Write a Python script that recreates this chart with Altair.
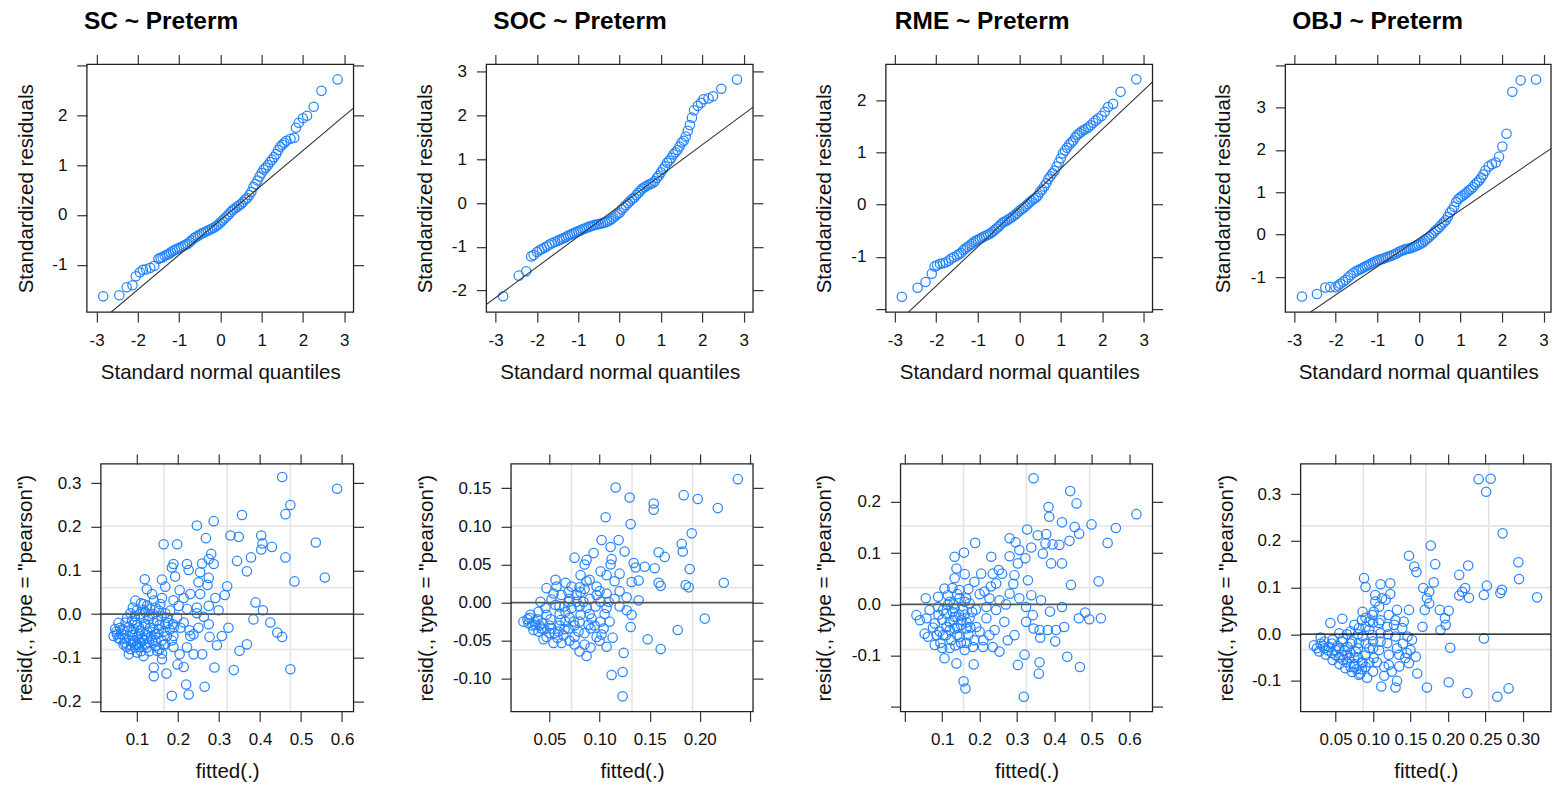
import altair as alt
import pandas as pd

FONT = "Liberation Sans"
PT = "#1f80ff"
H = 248

# ---------------- QQ panels (top row) ----------------
MID_X = [-1.50, -1.45, -1.40, -1.35, -1.30, -1.25, -1.20, -1.15, -1.10, -1.05,
         -1.00, -0.95, -0.90, -0.85, -0.80, -0.75, -0.70, -0.65, -0.60, -0.55,
         -0.50, -0.45, -0.40, -0.35, -0.30, -0.25, -0.20, -0.15, -0.10, -0.05,
         0.00, 0.05, 0.10, 0.15, 0.20, 0.25, 0.30, 0.35, 0.40, 0.45,
         0.50, 0.55, 0.60, 0.65, 0.70, 0.75, 0.80, 0.85, 0.90, 0.95,
         1.00, 1.05, 1.10, 1.15, 1.20, 1.25, 1.30, 1.35, 1.40, 1.45,
         1.50, 1.55, 1.60]

SC_LOW_X = [-2.84, -2.45, -2.27, -2.13, -2.05, -1.95, -1.88, -1.80, -1.70, -1.60]
SC_LOW_Y = [-1.63, -1.61, -1.45, -1.41, -1.23, -1.15, -1.10, -1.09, -1.06, -1.02]
SC_MID_Y = [-0.88, -0.86, -0.85, -0.82, -0.80, -0.78, -0.75, -0.72, -0.70, -0.68,
            -0.66, -0.645, -0.62, -0.60, -0.58, -0.545, -0.51, -0.47, -0.445, -0.42,
            -0.395, -0.37, -0.35, -0.33, -0.31, -0.29, -0.27, -0.25, -0.22, -0.19,
            -0.15, -0.11, -0.07, -0.03, 0.01, 0.06, 0.10, 0.13, 0.16, 0.19,
            0.22, 0.26, 0.31, 0.34, 0.40, 0.46, 0.56, 0.62, 0.69, 0.77,
            0.84, 0.91, 0.95, 1.00, 1.06, 1.11, 1.16, 1.22, 1.30, 1.37,
            1.41, 1.45, 1.49]
SC_UP_X = [1.70, 1.79, 1.83, 1.90, 2.00, 2.10, 2.26, 2.45, 2.84]
SC_UP_Y = [1.53, 1.55, 1.75, 1.85, 1.94, 1.99, 2.17, 2.49, 2.72]
SC_LINE = ([-2.65, 3.23], [-1.95, 2.15])

SOC_LOW_X = [-2.82, -2.44, -2.26, -2.14, -2.08, -2.00, -1.94, -1.88, -1.82, -1.76, -1.70, -1.64, -1.57]
SOC_LOW_Y = [-2.13, -1.66, -1.56, -1.22, -1.19, -1.12, -1.08, -1.05, -1.02, -0.99, -0.95, -0.92, -0.89]
SOC_MID_Y = [-0.865, -0.84, -0.82, -0.80, -0.775, -0.75, -0.725, -0.705, -0.685, -0.66,
             -0.645, -0.625, -0.60, -0.585, -0.565, -0.545, -0.53, -0.515, -0.50, -0.49,
             -0.48, -0.47, -0.455, -0.445, -0.425, -0.40, -0.37, -0.33, -0.29, -0.25,
             -0.22, -0.15, -0.10, -0.05, -0.005, 0.04, 0.09, 0.12, 0.18, 0.23,
             0.28, 0.33, 0.36, 0.39, 0.42, 0.44, 0.46, 0.50, 0.57, 0.63,
             0.70, 0.77, 0.84, 0.92, 0.97, 1.03, 1.11, 1.16, 1.21, 1.29,
             1.38, 1.42, 1.52]
SOC_UP_X = [1.65, 1.70, 1.75, 1.80, 1.89, 1.97, 2.03, 2.15, 2.26, 2.46, 2.84]
SOC_UP_Y = [1.65, 1.78, 1.95, 2.12, 2.22, 2.29, 2.37, 2.39, 2.44, 2.61, 2.82]
SOC_LINE = ([-3.23, 3.23], [-2.32, 2.19])

RME_LOW_X = [-2.83, -2.45, -2.26, -2.11, -2.04, -1.98, -1.91, -1.84, -1.77, -1.70, -1.64, -1.57]
RME_LOW_Y = [-1.76, -1.59, -1.48, -1.32, -1.18, -1.16, -1.13, -1.12, -1.10, -1.07, -1.03, -1.00]
RME_MID_Y = [-0.97, -0.945, -0.92, -0.87, -0.84, -0.81, -0.78, -0.75, -0.72, -0.69,
             -0.67, -0.65, -0.63, -0.61, -0.59, -0.57, -0.55, -0.52, -0.49, -0.455,
             -0.42, -0.38, -0.34, -0.32, -0.30, -0.275, -0.25, -0.22, -0.19, -0.16,
             -0.12, -0.09, -0.065, -0.03, 0.01, 0.045, 0.08, 0.11, 0.135, 0.175,
             0.245, 0.29, 0.35, 0.41, 0.49, 0.545, 0.60, 0.65, 0.73, 0.81,
             0.89, 0.98, 1.04, 1.09, 1.15, 1.19, 1.23, 1.29, 1.34, 1.37,
             1.40, 1.43, 1.45]
RME_UP_X = [1.66, 1.72, 1.78, 1.84, 1.90, 1.98, 2.06, 2.14, 2.26, 2.44, 2.82]
RME_UP_Y = [1.48, 1.52, 1.57, 1.61, 1.65, 1.70, 1.78, 1.87, 1.93, 2.16, 2.40]
RME_LINE = ([-2.67, 3.21], [-2.055, 2.35])

OBJ_LOW_X = [-2.81, -2.45, -2.25, -2.13, -2.00, -1.94, -1.89, -1.82, -1.76, -1.70, -1.64, -1.57]
OBJ_LOW_Y = [-1.46, -1.40, -1.25, -1.24, -1.24, -1.20, -1.16, -1.11, -1.07, -1.01, -0.96, -0.90]
OBJ_MID_Y = [-0.86, -0.835, -0.81, -0.785, -0.76, -0.735, -0.71, -0.685, -0.66, -0.635,
             -0.61, -0.595, -0.58, -0.565, -0.545, -0.525, -0.51, -0.49, -0.47, -0.45,
             -0.42, -0.395, -0.375, -0.355, -0.34, -0.33, -0.32, -0.30, -0.28, -0.255,
             -0.24, -0.21, -0.185, -0.14, -0.10, -0.055, -0.01, 0.04, 0.09, 0.13,
             0.18, 0.24, 0.29, 0.34, 0.42, 0.52, 0.58, 0.66, 0.77, 0.84,
             0.88, 0.92, 0.95, 0.99, 1.04, 1.07, 1.12, 1.18, 1.23, 1.28,
             1.34, 1.42, 1.51]
OBJ_UP_X = [1.68, 1.76, 1.85, 1.93, 2.01, 2.11, 2.25, 2.45, 2.82]
OBJ_UP_Y = [1.61, 1.66, 1.70, 1.84, 2.08, 2.38, 3.37, 3.64, 3.66]
OBJ_LINE = ([-2.61, 3.18], [-1.83, 2.03])

# ---------------- residual vs fitted panels (bottom row) ----------------
SC_RES = [
    (0.454, 0.314), (0.588, 0.287), (0.474, 0.250), (0.462, 0.229), (0.356, 0.227),
    (0.287, 0.213), (0.246, 0.203), (0.328, 0.180), (0.348, 0.177), (0.403, 0.180),
    (0.268, 0.174), (0.165, 0.160), (0.198, 0.160), (0.406, 0.162), (0.429, 0.154),
    (0.403, 0.148), (0.536, 0.164), (0.462, 0.130), (0.378, 0.130), (0.344, 0.122),
    (0.368, 0.098), (0.281, 0.138), (0.275, 0.126), (0.287, 0.115), (0.259, 0.116),
    (0.222, 0.115), (0.189, 0.115), (0.185, 0.107), (0.226, 0.101), (0.193, 0.086),
    (0.254, 0.096), (0.275, 0.083), (0.250, 0.073), (0.272, 0.067), (0.484, 0.075),
    (0.558, 0.084), (0.119, 0.080), (0.161, 0.079), (0.169, 0.063), (0.124, 0.057),
    (0.204, 0.055), (0.320, 0.064), (0.230, 0.046), (0.254, 0.046), (0.314, 0.044),
    (0.291, 0.037), (0.137, 0.046), (0.161, 0.037), (0.189, 0.032), (0.214, 0.037),
    (0.389, 0.027), (0.096, 0.031), (0.116, 0.023), (0.145, 0.015), (0.202, 0.019),
    (0.222, 0.012), (0.246, 0.015), (0.275, 0.019), (0.299, 0.009), (0.407, 0.009),
    (0.084, 0.002), (0.108, 0.000), (0.169, 0.002), (0.246, 0.002), (0.263, -0.006),
    (0.384, -0.012), (0.425, -0.019), (0.442, -0.042), (0.454, -0.052), (0.323, -0.031),
    (0.307, -0.050), (0.277, -0.052), (0.295, -0.071), (0.368, -0.069), (0.350, -0.084),
    (0.259, -0.092), (0.474, -0.126), (0.336, -0.128), (0.289, -0.122), (0.265, -0.166),
    (0.220, -0.161), (0.226, -0.184), (0.185, -0.187), (0.141, -0.122), (0.141, -0.142),
    (0.172, -0.136), (0.199, -0.115), (0.214, -0.121), (0.189, -0.075), (0.204, -0.092),
    (0.238, -0.092), (0.222, -0.076), (0.161, -0.090), (0.161, -0.103), (0.149, -0.084),
    (0.116, -0.096), (0.100, -0.088), (0.084, -0.080), (0.230, -0.050), (0.228, -0.037),
    (0.206, -0.031), (0.188, -0.023), (0.214, -0.019), (0.275, -0.023), (0.250, -0.031),
    (0.238, -0.046), (0.047, -0.034), (0.051, -0.046), (0.059, -0.057), (0.067, -0.069),
    (0.076, -0.038), (0.072, -0.019), (0.088, -0.015), (0.092, -0.034), (0.100, -0.052),
    (0.108, -0.065), (0.120, -0.046), (0.132, -0.031), (0.128, -0.012), (0.149, -0.015),
    (0.153, -0.034), (0.169, -0.023), (0.173, -0.050), (0.137, -0.061), (0.084, -0.061),
    (0.096, -0.076), (0.124, -0.076), (0.145, -0.073), (0.169, -0.069), (0.189, -0.050),
    (0.198, -0.008), (0.181, 0.008), (0.153, 0.008), (0.132, 0.012), (0.100, 0.008),
    (0.076, -0.008), (0.059, -0.031), (0.043, -0.050), (0.080, -0.092), (0.108, -0.038),
    (0.120, -0.023), (0.145, -0.046), (0.116, -0.008), (0.157, 0.023), (0.141, 0.031),
    (0.173, -0.008), (0.062, -0.045), (0.070, -0.055), (0.088, -0.048), (0.095, -0.020),
    (0.105, -0.030), (0.112, -0.055), (0.125, -0.040), (0.135, -0.050), (0.140, -0.020),
    (0.160, -0.060), (0.165, -0.040), (0.180, -0.035), (0.090, -0.065), (0.105, -0.075),
    (0.130, -0.085), (0.155, -0.080), (0.115, 0.010), (0.125, 0.020), (0.055, -0.020),
    (0.050, -0.040), (0.055, -0.055), (0.065, -0.035), (0.070, -0.065), (0.075, -0.075),
    (0.080, -0.030), (0.085, -0.070), (0.090, -0.040), (0.095, -0.060), (0.100, -0.070),
    (0.100, -0.025), (0.105, -0.045), (0.110, -0.085), (0.115, -0.060), (0.120, -0.070),
    (0.125, -0.055), (0.130, -0.065), (0.130, -0.005), (0.140, -0.035), (0.145, -0.060),
    (0.150, -0.045), (0.155, -0.025), (0.160, -0.005), (0.165, -0.070), (0.175, -0.020),
    (0.185, -0.060), (0.190, -0.030), (0.110, 0.025), (0.120, 0.005), (0.090, 0.015),
    (0.095, -0.005), (0.140, 0.000),
]

SOC_RES = [
    (0.238, 0.162), (0.116, 0.151), (0.130, 0.138), (0.184, 0.141), (0.198, 0.136),
    (0.154, 0.130), (0.154, 0.122), (0.218, 0.124), (0.106, 0.112), (0.131, 0.103),
    (0.192, 0.091), (0.102, 0.082), (0.119, 0.082), (0.111, 0.073), (0.182, 0.077),
    (0.183, 0.067), (0.125, 0.067), (0.159, 0.066), (0.165, 0.060), (0.094, 0.065),
    (0.087, 0.056), (0.075, 0.059), (0.085, 0.050), (0.112, 0.057), (0.111, 0.050),
    (0.134, 0.052), (0.136, 0.046), (0.145, 0.047), (0.155, 0.045), (0.190, 0.044),
    (0.101, 0.041), (0.107, 0.036), (0.120, 0.038), (0.081, 0.036), (0.115, 0.028),
    (0.132, 0.027), (0.139, 0.029), (0.159, 0.026), (0.161, 0.022), (0.186, 0.023),
    (0.189, 0.020), (0.224, 0.026), (0.056, 0.030), (0.047, 0.019), (0.066, 0.026),
    (0.072, 0.021), (0.087, 0.028), (0.097, 0.021), (0.107, 0.012), (0.127, 0.007),
    (0.139, 0.003), (0.041, 0.001), (0.052, 0.004), (0.062, 0.010), (0.069, 0.014),
    (0.077, 0.010), (0.084, 0.001), (0.096, -0.005), (0.107, -0.007), (0.120, -0.005),
    (0.127, -0.010), (0.132, -0.016), (0.131, -0.032), (0.205, -0.021), (0.178, -0.036),
    (0.148, -0.048), (0.161, -0.061), (0.124, -0.066), (0.112, -0.095), (0.123, -0.091),
    (0.123, -0.123), (0.080, -0.064), (0.087, -0.070), (0.091, -0.059), (0.107, -0.058),
    (0.113, -0.046), (0.102, -0.042), (0.104, -0.034), (0.101, -0.025), (0.092, -0.021),
    (0.089, -0.029), (0.079, -0.038), (0.081, -0.016), (0.072, -0.007), (0.066, -0.012),
    (0.061, -0.023), (0.052, -0.034), (0.054, -0.053), (0.062, -0.053), (0.047, -0.045),
    (0.042, -0.034), (0.036, -0.029), (0.029, -0.027), (0.024, -0.025), (0.031, -0.016),
    (0.039, -0.012), (0.046, -0.007), (0.047, -0.016), (0.039, -0.038), (0.034, -0.036),
    (0.059, -0.038), (0.069, -0.034), (0.074, -0.025), (0.066, -0.025), (0.056, -0.003),
    (0.069, 0.001), (0.077, 0.001), (0.087, -0.007), (0.097, 0.010), (0.091, -0.034),
    (0.097, -0.045), (0.057, 0.021), (0.054, 0.012), (0.081, 0.014), (0.101, 0.001),
    (0.109, 0.001), (0.028, -0.022), (0.033, -0.030), (0.038, -0.022), (0.043, -0.027),
    (0.050, -0.040), (0.044, -0.048), (0.058, -0.046), (0.064, -0.043), (0.070, -0.050),
    (0.075, -0.045), (0.060, -0.015), (0.051, -0.022), (0.065, -0.005), (0.080, -0.005),
    (0.085, 0.018), (0.090, 0.005), (0.030, -0.020), (0.035, -0.025), (0.040, -0.030),
    (0.045, -0.035), (0.050, -0.030), (0.055, -0.040), (0.060, -0.030), (0.065, -0.035),
    (0.070, -0.020), (0.075, -0.030), (0.080, -0.025), (0.085, -0.040), (0.090, -0.015),
    (0.095, -0.030), (0.060, -0.005), (0.070, 0.005), (0.080, 0.020), (0.090, 0.030),
    (0.100, 0.015), (0.105, -0.015), (0.110, -0.025), (0.115, 0.005), (0.120, 0.015),
    (0.075, -0.055), (0.085, -0.055), (0.100, -0.050),
]

RME_RES = [
    (0.344, 0.246), (0.442, 0.221), (0.459, 0.197), (0.384, 0.190), (0.386, 0.171),
    (0.619, 0.176), (0.420, 0.160), (0.454, 0.151), (0.499, 0.156), (0.564, 0.149),
    (0.466, 0.138), (0.440, 0.124), (0.542, 0.120), (0.327, 0.146), (0.355, 0.135),
    (0.378, 0.137), (0.280, 0.129), (0.296, 0.121), (0.338, 0.111), (0.376, 0.119),
    (0.395, 0.117), (0.413, 0.116), (0.369, 0.099), (0.391, 0.080), (0.420, 0.080),
    (0.188, 0.120), (0.133, 0.093), (0.158, 0.101), (0.138, 0.070), (0.231, 0.093),
    (0.280, 0.094), (0.306, 0.106), (0.322, 0.090), (0.302, 0.080), (0.251, 0.067),
    (0.235, 0.060), (0.204, 0.060), (0.160, 0.059), (0.293, 0.057), (0.329, 0.047),
    (0.444, 0.038), (0.518, 0.045), (0.133, 0.051), (0.106, 0.031), (0.127, 0.032),
    (0.146, 0.028), (0.186, 0.044), (0.213, 0.025), (0.244, 0.041), (0.280, 0.021),
    (0.306, 0.012), (0.338, 0.018), (0.364, 0.008), (0.056, 0.012), (0.089, 0.015),
    (0.164, 0.012), (0.226, 0.012), (0.253, 0.008), (0.089, -0.005), (0.115, -0.001),
    (0.133, -0.008), (0.173, 0.002), (0.218, -0.005), (0.244, -0.011), (0.324, -0.005),
    (0.420, -0.005), (0.388, -0.014), (0.031, -0.021), (0.040, -0.031), (0.058, -0.027),
    (0.080, -0.037), (0.111, -0.018), (0.133, -0.024), (0.151, -0.031), (0.173, -0.027),
    (0.191, -0.044), (0.218, -0.027), (0.266, -0.034), (0.342, -0.021), (0.324, -0.034),
    (0.344, -0.047), (0.360, -0.050), (0.382, -0.050), (0.404, -0.050), (0.426, -0.044),
    (0.465, -0.027), (0.493, -0.029), (0.524, -0.027), (0.482, -0.016), (0.362, -0.065),
    (0.402, -0.072), (0.053, -0.057), (0.062, -0.063), (0.080, -0.079), (0.102, -0.060),
    (0.124, -0.070), (0.146, -0.063), (0.160, -0.089), (0.182, -0.083), (0.209, -0.083),
    (0.235, -0.083), (0.253, -0.092), (0.275, -0.070), (0.293, -0.060), (0.226, -0.060),
    (0.200, -0.053), (0.106, -0.105), (0.138, -0.115), (0.184, -0.117), (0.157, -0.150),
    (0.162, -0.164), (0.302, -0.118), (0.320, -0.098), (0.360, -0.113), (0.358, -0.135),
    (0.434, -0.102), (0.468, -0.122), (0.318, -0.180), (0.133, -0.047), (0.111, -0.044),
    (0.093, -0.053), (0.164, -0.047), (0.128, -0.015), (0.146, 0.012), (0.115, 0.018),
    (0.102, -0.011), (0.066, -0.011), (0.120, -0.035), (0.140, -0.045), (0.160, -0.020),
    (0.170, -0.060), (0.190, -0.010), (0.150, -0.075), (0.120, -0.085), (0.095, -0.075),
    (0.075, -0.045), (0.140, 0.020), (0.170, 0.030), (0.200, 0.020), (0.210, -0.070),
    (0.240, -0.050), (0.270, 0.000), (0.290, 0.040), (0.260, 0.060), (0.230, 0.035),
    (0.100, -0.030), (0.110, -0.060), (0.120, -0.050), (0.130, -0.030), (0.140, -0.060),
    (0.150, -0.040), (0.155, -0.010), (0.165, -0.035), (0.175, -0.045), (0.180, -0.015),
    (0.130, 0.000), (0.145, -0.020), (0.160, 0.005), (0.120, 0.005), (0.090, -0.020),
    (0.085, -0.060), (0.100, -0.085), (0.135, -0.080), (0.165, -0.075), (0.185, -0.070),
]

OBJ_RES = [
    (0.241, 0.332), (0.257, 0.333), (0.251, 0.305), (0.273, 0.216), (0.177, 0.190),
    (0.148, 0.168), (0.155, 0.145), (0.158, 0.133), (0.183, 0.150), (0.227, 0.147),
    (0.215, 0.127), (0.294, 0.154), (0.295, 0.118), (0.319, 0.079), (0.252, 0.104),
    (0.248, 0.084), (0.272, 0.095), (0.270, 0.088), (0.223, 0.099), (0.219, 0.091),
    (0.215, 0.083), (0.228, 0.078), (0.088, 0.120), (0.090, 0.101), (0.110, 0.107),
    (0.123, 0.109), (0.103, 0.084), (0.112, 0.077), (0.103, 0.070), (0.123, 0.086),
    (0.117, 0.074), (0.167, 0.099), (0.181, 0.111), (0.175, 0.091), (0.172, 0.077),
    (0.175, 0.066), (0.169, 0.052), (0.189, 0.052), (0.201, 0.050), (0.196, 0.034),
    (0.197, 0.020), (0.190, 0.009), (0.166, 0.016), (0.148, 0.052), (0.132, 0.052),
    (0.141, 0.027), (0.128, 0.020), (0.119, 0.016), (0.108, 0.024), (0.099, 0.041),
    (0.086, 0.048), (0.095, 0.027), (0.043, 0.024), (0.059, 0.033), (0.055, 0.002),
    (0.070, 0.006), (0.081, 0.013), (0.090, 0.016), (0.099, -0.002), (0.110, 0.002),
    (0.130, -0.005), (0.146, -0.005), (0.152, -0.012), (0.248, -0.009), (0.203, -0.029),
    (0.150, -0.034), (0.157, -0.048), (0.143, -0.051), (0.135, -0.044), (0.121, -0.066),
    (0.135, -0.069), (0.148, -0.062), (0.159, -0.084), (0.115, -0.089), (0.111, -0.112),
    (0.130, -0.114), (0.132, -0.100), (0.172, -0.114), (0.201, -0.103), (0.226, -0.126),
    (0.266, -0.134), (0.281, -0.116), (0.092, -0.093), (0.083, -0.084), (0.086, -0.062),
    (0.101, -0.051), (0.108, -0.034), (0.095, -0.030), (0.081, -0.019), (0.072, -0.016),
    (0.119, -0.019), (0.121, -0.044), (0.021, -0.024), (0.030, -0.007), (0.028, -0.037),
    (0.037, -0.044), (0.046, -0.055), (0.055, -0.064), (0.063, -0.073), (0.072, -0.081),
    (0.081, -0.087), (0.041, -0.027), (0.050, -0.034), (0.059, -0.044), (0.068, -0.051),
    (0.075, -0.064), (0.035, -0.016), (0.046, -0.012), (0.059, -0.016), (0.066, -0.027),
    (0.077, -0.037), (0.086, -0.005), (0.108, 0.059), (0.101, 0.048), (0.121, 0.041),
    (0.139, 0.013), (0.110, -0.016), (0.132, -0.030), (0.025, -0.030), (0.033, -0.025),
    (0.040, -0.035), (0.050, -0.045), (0.060, -0.055), (0.070, -0.070), (0.078, -0.075),
    (0.052, -0.025), (0.062, -0.035), (0.070, -0.040), (0.080, -0.050), (0.090, -0.045),
    (0.065, 0.000), (0.075, 0.020), (0.085, 0.030), (0.095, 0.010), (0.100, -0.015),
    (0.090, -0.070), (0.030, -0.020), (0.035, -0.030), (0.045, -0.040), (0.055, -0.050),
    (0.065, -0.060), (0.075, -0.070), (0.085, -0.075), (0.045, -0.020), (0.055, -0.030),
    (0.065, -0.045), (0.075, -0.050), (0.085, -0.060), (0.095, -0.060), (0.060, -0.010),
    (0.070, -0.020), (0.080, -0.030), (0.090, -0.020), (0.100, -0.030), (0.105, -0.060),
    (0.115, -0.070), (0.080, 0.000), (0.090, 0.035), (0.100, 0.025), (0.110, 0.030),
    (0.120, 0.000), (0.130, 0.030), (0.140, -0.020), (0.145, -0.040), (0.125, -0.080),
    (0.100, -0.080),
]

# light reference grid (quarters of each residual panel)
SC_GRID = ([0.166, 0.320, 0.474], [-0.081, 0.0605, 0.202])
SOC_GRID = ([0.072, 0.1324, 0.1928], [-0.0618, 0.0195, 0.1008])
RME_GRID = ([0.157, 0.325, 0.494], [-0.088, 0.0325, 0.153])
OBJ_GRID = ([0.0869, 0.1705, 0.2545], [-0.0331, 0.0995, 0.232])

QQ_TICKS = [-3, -2, -1, 0, 1, 2, 3]


def hide_expr(vals):
    cond = " || ".join("abs(datum.value - (%s)) < 1e-6" % v for v in vals)
    return "(%s) ? '' : datum.label" % cond


def panel(pts, xdom, ydom, xr, W, xt, yt, xf, yf, xtitle, ytitle, ytx,
          xhide=(), yhide=(), right=True, line=None, grid=None, zero=None,
          title=None, tdx=0, pin=None):
    d = xr[0]
    xs = alt.Scale(domain=xdom, range=xr, nice=False, zero=False)
    ys = alt.Scale(domain=ydom, nice=False, zero=False)
    df = pd.DataFrame(pts, columns=["x", "y"])
    one = pd.DataFrame({"k": [0]})
    layers = []
    if grid is not None:
        gx, gy = grid
        layers.append(alt.Chart(pd.DataFrame({"gx": gx})).mark_rule(
            color="#e4e4e4", strokeWidth=1.6).encode(
            x=alt.X("gx:Q", scale=xs, axis=None), y=alt.value(0), y2=alt.value(H)))
        layers.append(alt.Chart(pd.DataFrame({"gy": gy})).mark_rule(
            color="#e4e4e4", strokeWidth=1.6).encode(
            y=alt.Y("gy:Q", scale=ys, axis=None), x=alt.value(d), x2=alt.value(W)))
    xa = dict(orient="bottom", values=xt, format=xf, title=xtitle)
    if xhide:
        xa["labelExpr"] = hide_expr(xhide)
    ya = dict(orient="left", values=yt, format=yf, title=ytitle,
              titleX=ytx, titleBaseline="alphabetic")
    if yhide:
        ya["labelExpr"] = hide_expr(yhide)
    if d:
        ya["offset"] = -d
    layers.append(alt.Chart(df).mark_point(
        shape="circle", filled=False, size=88, strokeWidth=1.25, color=PT, opacity=0.95).encode(
        x=alt.X("x:Q", scale=xs, axis=alt.Axis(**xa)),
        y=alt.Y("y:Q", scale=ys, axis=alt.Axis(**ya))))
    if line is not None:
        ldf = pd.DataFrame({"x": line[0], "y": line[1]})
        layers.append(alt.Chart(ldf).mark_line(color="#333333", strokeWidth=1.1, clip=True).encode(
            x=alt.X("x:Q", scale=xs, axis=None), y=alt.Y("y:Q", scale=ys, axis=None)))
    if zero is not None:
        layers.append(alt.Chart(pd.DataFrame({"z": [0.0]})).mark_rule(
            color=zero[0], strokeWidth=zero[1]).encode(
            y=alt.Y("z:Q", scale=ys, axis=None), x=alt.value(d), x2=alt.value(W)))
    layers.append(alt.Chart(one).mark_rect(fillOpacity=0, stroke="#222222", strokeWidth=1.3).encode(
        x=alt.value(d), x2=alt.value(W), y=alt.value(0), y2=alt.value(H)))
    layers.append(alt.Chart(df).mark_point(opacity=0).encode(
        x=alt.X("x:Q", scale=xs, axis=alt.Axis(orient="top", values=xt, labels=False, title="")),
        y=alt.Y("y:Q", scale=ys, axis=alt.Axis(orient="right", values=yt, labels=False,
                                               title="", ticks=right))))
    if pin is not None:
        layers.append(alt.Chart(one).mark_rule(opacity=0, strokeWidth=0.01).encode(
            x=alt.value(pin[0]), y=alt.value(pin[1]), y2=alt.value(pin[1] + 1)))
    ch = alt.layer(*layers).properties(width=W, height=H)
    if title:
        ch = ch.properties(title=alt.TitleParams(title, dx=tdx))
    return ch


QX = "Standard normal quantiles"
QY = "Standardized residuals"
RX = "fitted(.)"
RY = 'resid(., type = "pearson")'

t1 = panel(list(zip(SC_LOW_X + MID_X + SC_UP_X, SC_LOW_Y + SC_MID_Y + SC_UP_Y)),
           [-3.235, 3.227], [-1.948, 3.02], [0, 267], 267, QQ_TICKS, [-1, 0, 1, 2, 3],
           "d", "d", QX, QY, -54, yhide=[3], line=SC_LINE, title="SC ~ Preterm", tdx=-3)
t2 = panel(list(zip(SOC_LOW_X + MID_X + SOC_UP_X, SOC_LOW_Y + SOC_MID_Y + SOC_UP_Y)),
           [-3.225, 3.228], [-2.492, 3.166], [0, 267], 267, QQ_TICKS, [-2, -1, 0, 1, 2, 3],
           "d", "d", QX, QY, -54.5, line=SOC_LINE, title="SOC ~ Preterm", tdx=7)
t3 = panel(list(zip(RME_LOW_X + MID_X + RME_UP_X, RME_LOW_Y + RME_MID_Y + RME_UP_Y)),
           [-3.215, 3.21], [-2.055, 2.685], [0, 267], 267, QQ_TICKS, [-2, -1, 0, 1, 2],
           "d", "d", QX, QY, -55, yhide=[-2], line=RME_LINE, title="RME ~ Preterm", tdx=9)
t4 = panel(list(zip(OBJ_LOW_X + MID_X + OBJ_UP_X, OBJ_LOW_Y + OBJ_MID_Y + OBJ_UP_Y)),
           [-3.21, 3.18], [-1.828, 4.016], [0, 266], 266, QQ_TICKS, [-1, 0, 1, 2, 3, 4],
           "d", "d", QX, QY, -55.5, yhide=[4], right=False, line=OBJ_LINE,
           title="OBJ ~ Preterm", tdx=7)

b1 = panel(SC_RES, [0.012, 0.628], [-0.223, 0.344], [14, 267], 267,
           [0.1, 0.2, 0.3, 0.4, 0.5, 0.6], [-0.2, -0.1, 0.0, 0.1, 0.2, 0.3],
           ".1f", ".1f", RX, RY, -69, grid=SC_GRID, zero=("#555555", 1.8), pin=(-86, -463))
b2 = panel(SOC_RES, [0.0116, 0.2532], [-0.143, 0.182], [24.7, 267], 267,
           [0.05, 0.10, 0.15, 0.20, 0.25], [-0.10, -0.05, 0.0, 0.05, 0.10, 0.15],
           ".2f", ".2f", RX, RY, -79, xhide=[0.25], grid=SOC_GRID, zero=("#555555", 1.8))
b3 = panel(RME_RES, [-0.0115, 0.662], [-0.209, 0.274], [14.7, 267], 267,
           [0.0, 0.1, 0.2, 0.3, 0.4, 0.5, 0.6], [-0.2, -0.1, 0.0, 0.1, 0.2],
           ".1f", ".1f", RX, RY, -70, xhide=[0.0], yhide=[-0.2], grid=RME_GRID,
           zero=("#555555", 1.8))
b4 = panel(OBJ_RES, [0.0033, 0.3376], [-0.1657, 0.3647], [15.3, 266], 266,
           [0.05, 0.10, 0.15, 0.20, 0.25, 0.30], [-0.1, 0.0, 0.1, 0.2, 0.3],
           ".2f", ".1f", RX, RY, -68, right=False, grid=OBJ_GRID, zero=("#000000", 1.3))

chart = alt.concat(
    t1, t2, t3, t4, b1, b2, b3, b4,
    columns=4, spacing={"row": 152, "column": 133}, bounds="flush", align="each",
).properties(padding=0).configure(
    locale={"number": {"decimal": ".", "thousands": ",", "grouping": [3],
                       "currency": ["$", ""], "minus": "-"}}
).configure_axis(
    labelFont=FONT, labelFontSize=17, labelColor="#111111",
    titleFont=FONT, titleFontSize=20.6, titleFontWeight="normal", titleColor="#111111",
    tickSize=10, tickColor="#333333", tickWidth=1.2, labelPadding=10, titlePadding=14,
    domain=False, grid=False, labelFlush=False, labelOverlap=False,
).configure_title(
    font=FONT, fontSize=24.5, fontWeight="bold", color="#000000",
    anchor="start", frame="group", offset=19.5, baseline="alphabetic",
).configure_view(stroke="transparent")

chart.save("out.html", embed_options={"renderer": "svg", "actions": False})
